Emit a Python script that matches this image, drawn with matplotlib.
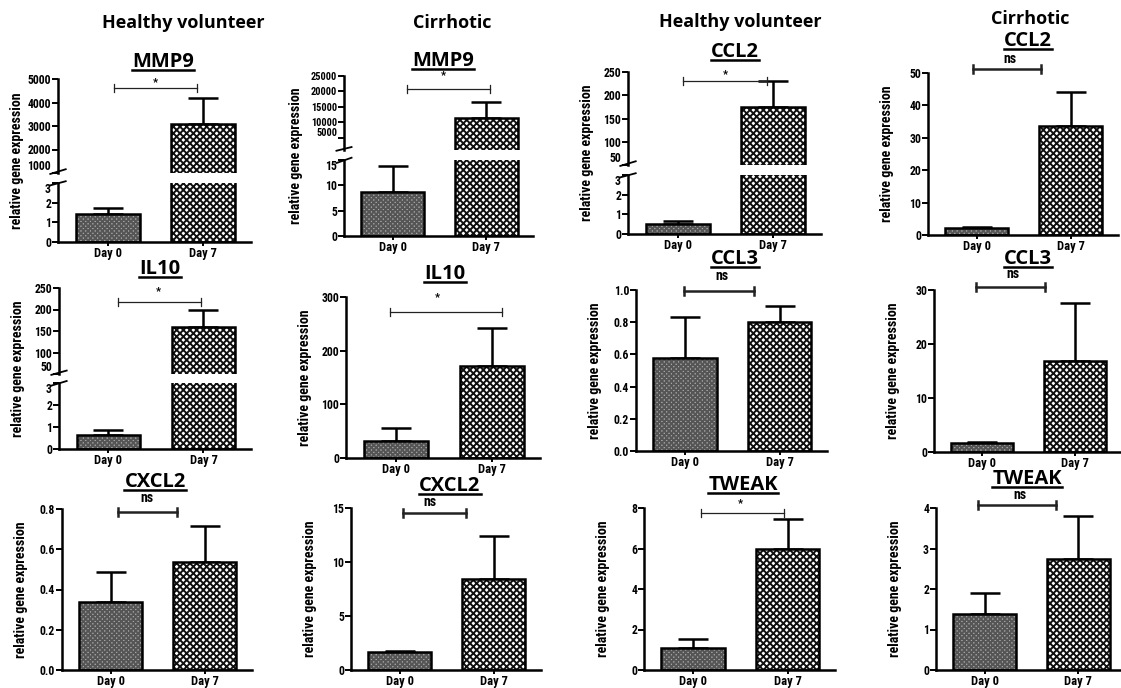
import matplotlib
matplotlib.use('Agg')
import matplotlib.pyplot as plt
import matplotlib.font_manager as fm
from matplotlib.lines import Line2D
import numpy as np

W, H = 1121, 688

groups = ['Healthy volunteer', 'Cirrhotic', 'Healthy volunteer', 'Cirrhotic']
days = ['Day 0', 'Day 7']
genes = ['MMP9', 'MMP9', 'CCL2', 'CCL2',
         'IL10', 'IL10', 'CCL3', 'CCL3',
         'CXCL2', 'CXCL2', 'TWEAK', 'TWEAK']
day0_mean = [1.4, 8.6, 0.5, 2.1, 0.65, 32, 0.58, 1.7, 0.337, 1.67, 1.09, 1.38]
day0_err = [0.35, 5.2, 0.14, 0.4, 0.23, 24, 0.255, 0.2, 0.15, 0.12, 0.44, 0.51]
day7_mean = [3090, 11400, 175, 33.6, 160, 172, 0.80, 16.9, 0.537, 8.45, 6.0, 2.75]
day7_err = [1100, 5100, 55, 10.6, 40, 70, 0.10, 10.7, 0.18, 4.0, 1.47, 1.05]
sig = ['*', '*', '*', 'ns', '*', '*', 'ns', 'ns', 'ns', 'ns', '*', 'ns']

# layout in pixels: (left, right, segments) ; segment = (top, bottom, ymin, ymax, ticks)
layout = [
    (58, 251, [(79, 173, 1000, 5000, [1000, 2000, 3000, 4000, 5000]), (183, 242, 0, 3, [0, 1, 2, 3])]),
    (344, 533, [(76, 150, 1000, 25000, [5000, 10000, 15000, 20000, 25000]), (160, 236, 0, 15, [0, 5, 10, 15])]),
    (628, 821, [(72, 165, 50, 250, [50, 100, 150, 200, 250]), (175, 234, 0, 3, [0, 1, 2, 3])]),
    (928, 1118, [(73, 235, 0, 50, [0, 10, 20, 30, 40, 50])]),
    (59, 251, [(288, 374, 50, 250, [50, 100, 150, 200, 250]), (383, 449, 0, 3, [0, 1, 2, 3])]),
    (346, 540, [(297, 458, 0, 300, [0, 100, 200, 300])]),
    (636, 827, [(290, 451, 0, 1.0, [0.0, 0.2, 0.4, 0.6, 0.8, 1.0])]),
    (934, 1121, [(290, 452, 0, 30, [0, 10, 20, 30])]),
    (62, 252, [(509, 670, 0, 0.8, [0.0, 0.2, 0.4, 0.6, 0.8])]),
    (351, 541, [(508, 670, 0, 15, [0, 5, 10, 15])]),
    (644, 835, [(508, 670, 0, 8, [0, 2, 4, 6, 8])]),
    (936, 1125, [(508, 670, 0, 4, [0, 1, 2, 3, 4])]),
]
ylab_off = [41, 48, 41, 41, 41, 41, 41, 41, 41, 41, 41, 41]
title_pos = [(163, 62), (443, 61), (735, 52), (1028, 41),
             (160, 269), (445, 274), (735, 259), (1028, 259),
             (155, 482), (450, 486), (743, 485), (1027, 479)]
group_pos = [(183, 23), (452, 23), (740, 22), (1030, 19)]
# significance bar: x0, x1, y, text x, text y
sig_pos = [(114, 197, 88, 155, 82), (407, 490, 89, 443, 75), (683, 767, 81, 725, 74), (973, 1041, 69, 1010, 59),
           (118, 201, 302, 158, 291), (390, 502, 312, 437, 297), (684, 754, 291, 722, 276), (976, 1045, 287, 1013, 274),
           (118, 177, 512, 147, 498), (403, 466, 513, 430, 502), (701, 784, 513, 740, 503), (978, 1056, 505, 1020, 495)]

names = {f.name for f in fm.fontManager.ttflist}
narrow = None
for cand in ['Liberation Sans Narrow', 'Roboto Condensed', 'DejaVu Sans Condensed']:
    if cand in names:
        narrow = cand
        break
if narrow is None:
    narrow = 'Liberation Sans'
    ytick_fs, xtick_fs, ylab_fs = 7.5, 8, 8.5
else:
    ytick_fs, xtick_fs, ylab_fs = 8.5, 9, 10
head_font = 'Open Sans' if 'Open Sans' in names else 'DejaVu Sans'

plt.rcParams['font.family'] = [narrow, 'DejaVu Sans']
plt.rcParams['font.weight'] = 'bold'
plt.rcParams['hatch.linewidth'] = 1.4


def fx(x):
    return x / W


def fy(y):
    return 1 - y / H


fig = plt.figure(figsize=(W / 100, H / 100), dpi=100)
lw = 1.8
bw = 0.67

for i, (L, R, segs) in enumerate(layout):
    m = [day0_mean[i], day7_mean[i]]
    e = [day0_err[i], day7_err[i]]
    axes = []
    for k, (top, bot, ymin, ymax, ticks) in enumerate(segs):
        ax = fig.add_axes([fx(L), fy(bot), (R - L) / W, (bot - top) / H])
        ax.set_xlim(-0.52, 1.5)
        ax.set_ylim(ymin, ymax)
        ax.bar(0, m[0], bw, color='#a8a8a8', edgecolor='#555555', hatch='xxxxxxx', linewidth=0, zorder=2)
        ax.bar(1, m[1], bw, color='white', edgecolor='#101010', hatch='xxxxx', linewidth=0, zorder=2)
        ax.bar([0, 1], m, bw, fill=False, edgecolor='black', linewidth=lw, zorder=3)
        ax.errorbar([0, 1], m, yerr=[[0, 0], e], fmt='none', ecolor='black',
                    elinewidth=lw, capsize=11, capthick=lw, zorder=1)
        for s in ['top', 'right']:
            ax.spines[s].set_visible(False)
        ax.spines['left'].set_linewidth(lw)
        ax.spines['bottom'].set_linewidth(lw)
        ax.set_yticks(ticks)
        if ticks[-1] < 2:
            ax.set_yticklabels(['%.1f' % t for t in ticks])
        else:
            ax.set_yticklabels(['%d' % t for t in ticks])
        # the tall upper segment of the cirrhotic MMP9 panel packs its labels tightly
        fs = ytick_fs - 1 if ticks[-1] >= 10000 else ytick_fs
        ax.tick_params(axis='y', length=4, width=1.4, pad=1, labelsize=fs)
        last = k == len(segs) - 1
        if last:
            ax.set_xticks([0, 1])
            ax.set_xticklabels(days)
            ax.tick_params(axis='x', length=3, width=1.4, pad=0.5, labelsize=xtick_fs)
        else:
            ax.spines['bottom'].set_visible(False)
            ax.set_xticks([])
        ax.patch.set_alpha(0)
        axes.append(ax)
    if len(axes) == 2:
        up, low = axes
        kw = dict(color='black', lw=1.3, clip_on=False)
        up.plot([-0.04, 0.04], [-0.01, 0.04], transform=up.transAxes, **kw)
        low.plot([-0.04, 0.04], [0.96, 1.03], transform=low.transAxes, **kw)
        # keep the labels at the break from running into each other
        up.get_yticklabels()[0].set_va('bottom')
        low.get_yticklabels()[-1].set_va('top')
    # y label
    top_px = segs[0][0]
    bot_px = segs[-1][1]
    fig.text(fx(L - ylab_off[i]), fy((top_px + bot_px) / 2), 'relative gene expression',
             rotation=90, ha='center', va='center', fontsize=ylab_fs, fontweight='bold')
    # significance
    x0, x1, y, tx, ty = sig_pos[i]
    slw = 0.9 if sig[i] == '*' else 1.8
    fig.add_artist(Line2D([fx(x0), fx(x1)], [fy(y), fy(y)], color='#222222', lw=slw))
    for xx in (x0, x1):
        fig.add_artist(Line2D([fx(xx), fx(xx)], [fy(y - 4), fy(y + 4)], color='#222222', lw=slw))
    fig.text(fx(tx), fy(ty), sig[i], ha='center', va='center',
             fontsize=8 if sig[i] == '*' else 10, fontweight='bold')

titles = []
for i, g in enumerate(genes):
    t = fig.text(fx(title_pos[i][0]), fy(title_pos[i][1]), g, ha='center', va='center',
                 fontsize=14.5, fontweight='bold', family=[head_font, 'DejaVu Sans'])
    titles.append(t)
for i, g in enumerate(groups):
    fig.text(fx(group_pos[i][0]), fy(group_pos[i][1]), g, ha='center', va='center',
             fontsize=13, fontweight='bold', family=[head_font, 'DejaVu Sans'])

fig.canvas.draw()
rend = fig.canvas.get_renderer()
for t in titles:
    bb = t.get_window_extent(rend)
    yy = (bb.y0 + 2) / H
    fig.add_artist(Line2D([bb.x0 / W, bb.x1 / W], [yy, yy], color='black', lw=1.8))

fig.savefig('out.png', dpi=100)
